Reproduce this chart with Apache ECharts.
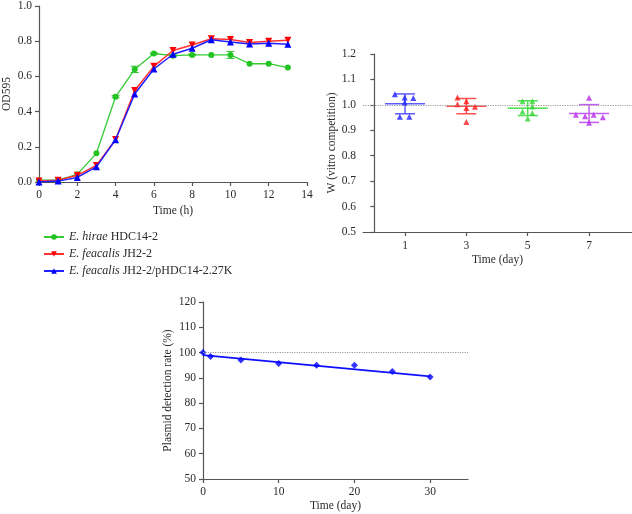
<!DOCTYPE html>
<html>
<head>
<meta charset="utf-8">
<script src="https://cdn.jsdelivr.net/npm/echarts@6/dist/echarts.min.js"></script>
<style>
  html, body { margin: 0; padding: 0; background: #fff; }
  #chart { width: 632px; height: 514px; }
</style>
</head>
<body>
<div id="chart"></div>
<script>
// growth curves (OD595 vs time in hours)
const timeH = [0, 1, 2, 3, 4, 5, 6, 7, 8, 9, 10, 11, 12, 13];
const hirae = [0.01, 0.01, 0.043, 0.163, 0.484, 0.64, 0.73, 0.718, 0.722, 0.722, 0.722, 0.672, 0.672, 0.65];
const hiraeErr = [0, 0, 0, 0, 0.006, 0.018, 0.004, 0.004, 0.004, 0, 0.02, 0, 0, 0];
const jh22 = [0.005, 0.01, 0.038, 0.094, 0.242, 0.52, 0.657, 0.747, 0.778, 0.814, 0.81, 0.792, 0.8, 0.805];
const jh22p = [0, 0.005, 0.026, 0.086, 0.24, 0.5, 0.642, 0.726, 0.76, 0.808, 0.796, 0.784, 0.788, 0.782];
const growthNames = ['E. hirae HDC14-2', 'E. feacalis JH2-2', 'E. feacalis JH2-2/pHDC14-2.27K'];
const growthItalic = ['E. hirae', 'E. feacalis', 'E. feacalis'];

// in vitro competition (W) per day, individual points [x, W]
const compDays = [1, 3, 5, 7];
const compDay1 = [[0.67, 1.042], [0.99, 1.029], [1.27, 1.027], [0.99, 1.008], [0.83, 0.953], [1.14, 0.953]];
const compDay3 = [[2.71, 1.029], [3.0, 1.014], [2.71, 1.002], [3.28, 0.993], [3.0, 0.988], [3.0, 0.933]];
const compDay5 = [[4.83, 1.014], [5.15, 1.014], [5.15, 0.994], [4.83, 0.974], [5.15, 0.968], [5.0, 0.946]];
const compDay7 = [[7.0, 1.028], [6.57, 0.961], [6.87, 0.955], [7.15, 0.961], [7.45, 0.951], [7.0, 0.93]];
const compMean = [1.004, 0.995, 0.987, 0.966];
const compSd = [0.039, 0.030, 0.029, 0.035];

// plasmid stability
const stabDays = [0, 1, 5, 10, 15, 20, 25, 30];
const stabRate = [100, 98.4, 97.1, 95.7, 95.0, 95.0, 92.5, 90.3];
const stabFit = [[0, 99.0], [30, 90.6]];
const stabTicks = [0, 10, 20, 30];

const FONT = 'Liberation Serif';
const TXT = '#2a2a2a';
const AX = '#555';

const chart = echarts.init(document.getElementById('chart'), null, { renderer: 'canvas' });

function axisCommon() {
  return {
    axisLine: { show: true, lineStyle: { color: AX, width: 1.2 } },
    axisTick: { show: true, length: 4, lineStyle: { color: AX, width: 1.2 } },
    splitLine: { show: false },
    axisLabel: { color: TXT, fontFamily: FONT, fontSize: 11.5, margin: 7 },
    nameTextStyle: { color: TXT, fontFamily: FONT, fontSize: 11.5 },
    nameLocation: 'middle'
  };
}
const fix1 = v => v.toFixed(1);

function statBar(params, api) {
  const x = api.value(0), m = api.value(1), s = api.value(2);
  const c = api.coord([x, m]);
  const hi = api.coord([x, m + s]);
  const lo = api.coord([x, m - s]);
  const style = { stroke: api.visual('color'), lineWidth: 1.5 };
  return {
    type: 'group',
    children: [
      { type: 'line', shape: { x1: c[0] - 20, y1: c[1], x2: c[0] + 20, y2: c[1] }, style },
      { type: 'line', shape: { x1: c[0] - 10, y1: hi[1], x2: c[0] + 10, y2: hi[1] }, style },
      { type: 'line', shape: { x1: c[0] - 10, y1: lo[1], x2: c[0] + 10, y2: lo[1] }, style },
      { type: 'line', shape: { x1: c[0], y1: hi[1], x2: c[0], y2: lo[1] }, style }
    ]
  };
}

function errBar(params, api) {
  const x = api.value(0), m = api.value(1), e = api.value(2);
  if (!e) return;
  const hi = api.coord([x, m + e]);
  const lo = api.coord([x, m - e]);
  const style = { stroke: api.visual('color'), lineWidth: 1 };
  return {
    type: 'group',
    children: [
      { type: 'line', shape: { x1: hi[0], y1: hi[1], x2: lo[0], y2: lo[1] }, style },
      { type: 'line', shape: { x1: hi[0] - 4, y1: hi[1], x2: hi[0] + 4, y2: hi[1] }, style },
      { type: 'line', shape: { x1: lo[0] - 4, y1: lo[1], x2: lo[0] + 4, y2: lo[1] }, style }
    ]
  };
}

const compColors = ['#1f1fff', '#ff1a1a', '#33d633', '#b52be8'];
const compBarColors = ['#5c5cff', '#ff5050', '#4ddf4d', '#c35cf0'];
const compSets = [compDay1, compDay3, compDay5, compDay7];

const option = {
  animation: false,
  backgroundColor: '#fff',
  textStyle: { fontFamily: FONT },
  grid: [
    { left: 39, top: 5, width: 268, height: 177 },
    { left: 363, top: 54, width: 269, height: 178 },
    { left: 203, top: 302, width: 265, height: 177 }
  ],
  legend: {
    data: growthNames,
    orient: 'vertical',
    left: 38,
    top: 226,
    itemWidth: 20,
    itemHeight: 7,
    itemGap: 5,
    formatter: name => {
      const i = growthNames.indexOf(name);
      return '{i|' + growthItalic[i] + '}' + name.slice(growthItalic[i].length);
    },
    textStyle: {
      color: TXT, fontFamily: FONT, fontSize: 12,
      rich: { i: { fontStyle: 'italic', fontFamily: FONT, fontSize: 12, color: TXT } }
    }
  },
  xAxis: [
    Object.assign(axisCommon(), {
      gridIndex: 0, type: 'value', min: 0, max: 14, interval: 2,
      name: 'Time (h)', nameGap: 23
    }),
    Object.assign(axisCommon(), {
      gridIndex: 1, type: 'value', min: -0.37, max: 8.4,
      name: 'Time (day)', nameGap: 22,
      axisTick: { show: true, length: 4, customValues: compDays, lineStyle: { color: AX, width: 1.2 } },
      axisLabel: { color: TXT, fontFamily: FONT, fontSize: 11.5, margin: 8, customValues: compDays }
    }),
    Object.assign(axisCommon(), {
      gridIndex: 2, type: 'value', min: 0, max: 35,
      name: 'Time (day)', nameGap: 21,
      axisTick: { show: true, length: 4, customValues: stabTicks, lineStyle: { color: AX, width: 1.2 } },
      axisLabel: { color: TXT, fontFamily: FONT, fontSize: 11.5, margin: 7, customValues: stabTicks }
    })
  ],
  yAxis: [
    Object.assign(axisCommon(), {
      gridIndex: 0, type: 'value', min: 0, max: 1, interval: 0.2,
      name: 'OD595', nameGap: 26,
      axisLabel: { color: TXT, fontFamily: FONT, fontSize: 11.5, margin: 7, formatter: fix1 }
    }),
    Object.assign(axisCommon(), {
      gridIndex: 1, type: 'value', min: 0.5, max: 1.2, interval: 0.1,
      name: 'W (vitro competition)', nameGap: 25,
      axisLabel: { color: TXT, fontFamily: FONT, fontSize: 11.5, margin: 7, formatter: fix1 }
    }),
    Object.assign(axisCommon(), {
      gridIndex: 2, type: 'value', min: 50, max: 120, interval: 10,
      name: 'Plasmid detection rate (%)', nameGap: 29
    })
  ],
  series: [
    {
      type: 'custom', xAxisIndex: 0, yAxisIndex: 0, silent: true,
      itemStyle: { color: '#2ec42e' },
      renderItem: errBar,
      data: timeH.map((t, i) => [t, hirae[i], hiraeErr[i]]),
      z: 2
    },
    {
      name: growthNames[0], type: 'line', xAxisIndex: 0, yAxisIndex: 0,
      data: timeH.map((t, i) => [t, hirae[i]]),
      symbol: 'circle', symbolSize: 6,
      itemStyle: { color: '#22c322' }, lineStyle: { color: '#33cc33', width: 1.3 }, z: 3
    },
    {
      name: growthNames[1], type: 'line', xAxisIndex: 0, yAxisIndex: 0,
      data: timeH.map((t, i) => [t, jh22[i]]),
      symbol: 'triangle', symbolRotate: 180, symbolSize: 7,
      itemStyle: { color: '#ff0000' }, lineStyle: { color: '#ff3030', width: 1.5 }, z: 4
    },
    {
      name: growthNames[2], type: 'line', xAxisIndex: 0, yAxisIndex: 0,
      data: timeH.map((t, i) => [t, jh22p[i]]),
      symbol: 'triangle', symbolSize: 7,
      itemStyle: { color: '#0000ff' }, lineStyle: { color: '#2020ff', width: 1.5 }, z: 5
    },
    // competition panel: mean +- SD bars then points
    ...compDays.map((d, i) => ({
      type: 'custom', xAxisIndex: 1, yAxisIndex: 1, silent: true,
      itemStyle: { color: compBarColors[i] },
      renderItem: statBar,
      data: [[d, compMean[i], compSd[i]]],
      z: 2
    })),
    ...compSets.map((pts, i) => ({
      type: 'scatter', xAxisIndex: 1, yAxisIndex: 1,
      data: pts, symbol: 'triangle', symbolSize: 6,
      itemStyle: { color: compColors[i] }, z: 3,
      markLine: i === 0 ? {
        silent: true, symbol: 'none', label: { show: false },
        lineStyle: { color: '#999', type: 'dotted', width: 1.2 },
        data: [{ yAxis: 1 }]
      } : undefined
    })),
    // plasmid stability
    {
      type: 'line', xAxisIndex: 2, yAxisIndex: 2,
      data: stabFit, symbol: 'none',
      lineStyle: { color: '#1010ff', width: 1.8 }, z: 2,
      markLine: {
        silent: true, symbol: 'none', label: { show: false },
        lineStyle: { color: '#999', type: 'dotted', width: 1.2 },
        data: [{ yAxis: 100 }]
      }
    },
    {
      type: 'scatter', xAxisIndex: 2, yAxisIndex: 2,
      data: stabDays.map((d, i) => [d, stabRate[i]]),
      symbol: 'diamond', symbolSize: 7,
      itemStyle: { color: '#0000ff' }, z: 3
    }
  ]
};

chart.setOption(option);
</script>
</body>
</html>
